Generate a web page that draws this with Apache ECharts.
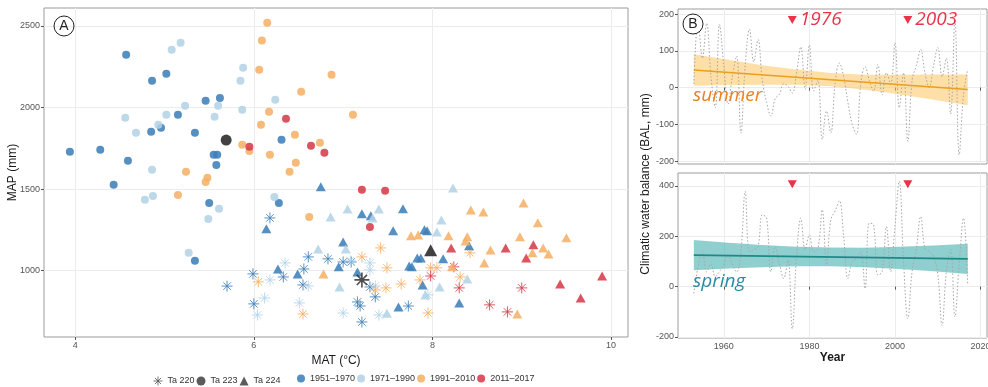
<!DOCTYPE html>
<html>
<head>
<meta charset="utf-8">
<script src="https://cdn.jsdelivr.net/npm/echarts@6/dist/echarts.min.js"></script>
<style>
  html, body { margin: 0; padding: 0; background: #fff; }
  #chart { width: 988px; height: 387px; }
</style>
</head>
<body>
<div id="chart"></div>
<script>
// ---- panel A: MAT / MAP per site and period ----
const periods = ['1951–1970', '1971–1990', '1991–2010', '2011–2017'];
const periodColors = ['#3f80b8', '#b3d3e6', '#f5b268', '#d63c4a'];

// circles (Ta 223 shape)
const c51 = [[3.94,1728],[4.28,1741],[4.57,2323],[4.86,2164],[5.02,2207],[4.59,1673],[4.43,1526],[4.85,1851],[4.96,1876],[5.15,1955],[5.34,1845],[5.46,2041],[5.62,2059],[5.55,1710],[5.59,1710],[5.58,1648],[6.31,1802],[5.50,1415],[6.28,1415],[5.34,1060]];
const c71 = [[5.18,2397],[5.08,2354],[4.56,1937],[4.68,1845],[4.93,1894],[5.02,1955],[5.23,2010],[5.60,2010],[5.56,1943],[5.88,2244],[5.85,2164],[5.87,1986],[6.24,2047],[4.86,1618],[4.78,1434],[4.87,1458],[5.49,1317],[5.61,1379],[5.27,1109],[6.23,1452]];
const c91 = [[6.15,2520],[6.09,2410],[6.06,2231],[6.53,2096],[6.17,1974],[6.08,1894],[6.46,1833],[6.74,1784],[5.87,1771],[5.95,1734],[6.18,1710],[6.47,1661],[6.40,1606],[5.24,1606],[5.46,1544],[5.48,1569],[5.15,1464],[6.87,2201],[7.11,1955],[6.62,1329]];
const c11 = [[6.36,1931],[5.95,1759],[6.64,1765],[6.79,1722],[7.21,1495],[7.47,1489],[7.30,1268]];

// triangles (Ta 224 shape)
const t51 = [[6.75,1514],[6.14,1256],[6.27,1010],[6.49,980],[7.00,1176],[7.21,1348],[7.31,1336],[7.67,1379],[7.56,1244],[6.95,1023],[7.16,992],[7.74,1029],[7.83,1078],[7.91,1250],[7.94,1244],[8.41,1152],[7.87,1078],[8.12,1072],[7.77,1023],[7.89,912],[8.30,802],[7.62,777]];
const t71 = [[8.23,1507],[6.86,1329],[7.05,1378],[7.40,1378],[7.33,1323],[8.10,1311],[8.05,1237],[6.72,1133],[7.03,1133],[6.96,899],[7.49,739],[8.39,949],[8.08,899],[7.92,850]];
const t91 = [[9.02,1415],[8.43,1372],[8.57,1360],[9.18,1293],[9.50,1201],[8.98,1207],[8.18,1213],[8.37,1182],[8.39,1207],[8.65,1127],[9.24,1139],[9.30,1102],[9.12,1109],[8.58,1047],[8.22,1023],[8.95,734],[7.76,1213],[7.84,1219],[6.78,980]];
const t11 = [[8.21,1139],[8.82,1139],[9.13,1158],[9.05,1078],[9.90,967],[9.43,918],[9.66,832]];

// stars (Ta 220 shape)
const s51 = [[5.70,905],[5.99,980],[6.00,796],[6.18,1323],[6.61,1084],[6.56,1010],[6.55,912],[6.33,961],[6.83,1072],[7.09,1053],[7.00,1053],[7.16,808],[7.19,783],[7.21,685],[7.36,839],[7.73,783],[7.30,900]];
const s71 = [[6.12,832],[6.04,728],[6.51,802],[6.35,1047],[6.18,943],[6.61,906],[7.08,1060],[7.30,1047],[7.00,740],[7.36,906],[7.30,1004],[7.95,851],[7.40,728]];
const s91 = [[6.05,931],[6.55,734],[7.21,1084],[7.42,1139],[7.49,1017],[7.48,894],[7.65,918],[7.36,881],[7.95,740],[7.98,1017],[8.05,1017],[8.42,1109],[8.31,961],[7.86,943]];
const s11 = [[7.98,967],[8.24,1023],[8.30,894],[9.00,894],[8.64,790],[8.84,747]];

// the three stations over the whole record
const ta220 = [[7.21,943]];
const ta223 = [[5.69,1800]];
const ta224 = [[7.98,1125]];

const matTicks = [4, 6, 8, 10];
const mapTicks = [1000, 1500, 2000, 2500];

// ---- panel B: climatic water balance ----
const years = [1953,1954,1955,1956,1957,1958,1959,1960,1961,1962,1963,1964,1965,1966,1967,1968,1969,1970,1971,1972,1973,1974,1975,1976,1977,1978,1979,1980,1981,1982,1983,1984,1985,1986,1987,1988,1989,1990,1991,1992,1993,1994,1995,1996,1997,1998,1999,2000,2001,2002,2003,2004,2005,2006,2007,2008,2009,2010,2011,2012,2013,2014,2015,2016,2017];
const summerBal = [10,181,80,175,30,-55,172,60,-45,30,86,-124,60,159,70,131,20,-40,-77,-30,-18,10,4,-15,40,111,-5,116,-9,20,-141,-64,-123,10,67,30,-40,-100,-127,10,57,20,-10,63,-20,40,10,122,-55,40,-146,20,60,104,40,0,60,109,30,80,-72,184,-183,-20,50];
const springBal = [-27,80,139,58,90,40,60,86,126,90,58,139,378,139,147,160,285,272,59,159,90,32,105,-167,120,272,146,205,139,150,305,86,265,300,341,200,32,100,110,139,-8,252,245,46,59,238,59,240,418,100,-127,60,150,278,152,140,119,50,-154,60,146,-120,90,272,6];

const bandYears = [1953,1961,1969,1977,1985,1993,2001,2009,2017];
const summerLo = [5,7,8,8,4,-6,-18,-33,-48];
const summerHi = [91,76,61,49,40,35,35,36,36];
const springLo = [65,72,77,81,81,77,70,61,50];
const springHi = [185,174,165,158,155,154,158,163,170];
const summerTrend = [[1953,48],[2017,-5]];
const springTrend = [[1953,125],[2017,110]];

const dryYears = [1976, 2003];
const yearTicks = [1960, 1980, 2000, 2020];
const summerTicks = [-200, -100, 0, 100, 200];
const springTicks = [-200, 0, 200, 400];

const STAR = 'path://M0,5L10,5M5,0L5,10M1.6,1.6L8.4,8.4M8.4,1.6L1.6,8.4';
const font = 'Liberation Sans';

const chart = echarts.init(document.getElementById('chart'), null, { renderer: 'canvas' });

function valueAxis(grid, min, max, ticks, showLabels, extra) {
  return Object.assign({
    gridIndex: grid,
    type: 'value',
    min: min,
    max: max,
    axisLine: { show: false },
    axisTick: { show: true, length: 3, lineStyle: { color: '#555' }, customValues: ticks },
    axisLabel: {
      show: showLabels, customValues: ticks, fontSize: 9, color: '#555',
      fontFamily: font, margin: 4, formatter: v => String(v)
    },
    splitLine: { show: true, lineStyle: { color: '#ececec', width: 1 } }
  }, extra || {});
}

function scatter(name, data, symbol, color, size, z) {
  const star = symbol === STAR;
  return {
    name: name,
    type: 'scatter',
    xAxisIndex: 0, yAxisIndex: 0,
    data: data,
    symbol: symbol,
    symbolSize: size,
    z: z || 2,
    itemStyle: star
      ? { color: 'none', borderColor: color, borderWidth: 1, opacity: 0.85 }
      : { color: color, opacity: 0.88 }
  };
}

function band(axis, lo, hi, fill) {
  return {
    type: 'custom',
    xAxisIndex: axis, yAxisIndex: axis,
    data: bandYears.map((y, i) => [y, lo[i], hi[i]]),
    z: 1,
    renderItem: function (params, api) {
      if (params.dataIndex !== 0) return null;
      const pts = [];
      for (let i = 0; i < bandYears.length; i++) pts.push(api.coord([bandYears[i], hi[i]]));
      for (let i = bandYears.length - 1; i >= 0; i--) pts.push(api.coord([bandYears[i], lo[i]]));
      return { type: 'polygon', shape: { points: pts }, style: { fill: fill } };
    }
  };
}

const series = [
  scatter('s51', s51, STAR, periodColors[0], 11),
  scatter('s71', s71, STAR, periodColors[1], 11),
  scatter('s91', s91, STAR, periodColors[2], 11),
  scatter('s11', s11, STAR, periodColors[3], 11),
  scatter(periods[0], c51, 'circle', periodColors[0], 8),
  scatter(periods[1], c71, 'circle', periodColors[1], 8),
  scatter(periods[2], c91, 'circle', periodColors[2], 8),
  scatter(periods[3], c11, 'circle', periodColors[3], 8),
  scatter('t51', t51, 'triangle', periodColors[0], [10, 9]),
  scatter('t71', t71, 'triangle', periodColors[1], [10, 9]),
  scatter('t91', t91, 'triangle', periodColors[2], [10, 9]),
  scatter('t11', t11, 'triangle', periodColors[3], [10, 9]),
  Object.assign(scatter('Ta 220', ta220, STAR, '#111', 15, 5), {
    itemStyle: { color: 'none', borderColor: '#222', borderWidth: 1.6 }
  }),
  Object.assign(scatter('Ta 223', ta223, 'circle', '#111', 11, 5), { itemStyle: { color: '#111' } }),
  Object.assign(scatter('Ta 224', ta224, 'triangle', '#111', [13, 12], 5), { itemStyle: { color: '#111' } }),

  // summer
  band(1, summerLo, summerHi, 'rgba(251,196,95,0.55)'),
  {
    type: 'line', xAxisIndex: 1, yAxisIndex: 1, z: 2,
    data: years.map((y, i) => [y, summerBal[i]]),
    smooth: 0.4, symbol: 'none',
    lineStyle: { type: [1.5, 2], color: '#a6a6a6', width: 1 }
  },
  {
    type: 'line', xAxisIndex: 1, yAxisIndex: 1, z: 3,
    data: summerTrend, symbol: 'none',
    lineStyle: { color: '#e9a01f', width: 1.6 }
  },
  {
    type: 'scatter', xAxisIndex: 1, yAxisIndex: 1, z: 4,
    data: dryYears.map(y => [y, 184]),
    symbol: 'triangle', symbolRotate: 180, symbolSize: [9, 8],
    itemStyle: { color: '#e5001c' },
    label: {
      show: true, position: 'right', distance: 3,
      formatter: p => String(p.value[0]),
      fontFamily: 'Open Sans', fontStyle: 'italic', fontSize: 19, color: '#e5001c'
    }
  },

  // spring
  band(2, springLo, springHi, 'rgba(84,182,182,0.65)'),
  {
    type: 'line', xAxisIndex: 2, yAxisIndex: 2, z: 2,
    data: years.map((y, i) => [y, springBal[i]]),
    smooth: 0.4, symbol: 'none',
    lineStyle: { type: [1.5, 2], color: '#a6a6a6', width: 1 }
  },
  {
    type: 'line', xAxisIndex: 2, yAxisIndex: 2, z: 3,
    data: springTrend, symbol: 'none',
    lineStyle: { color: '#1b8a86', width: 1.8 }
  },
  {
    type: 'scatter', xAxisIndex: 2, yAxisIndex: 2, z: 4,
    data: dryYears.map(y => [y, 406]),
    symbol: 'triangle', symbolRotate: 180, symbolSize: [9, 8],
    itemStyle: { color: '#e5001c' }
  }
];

const nameStyle = { fontFamily: font, fontSize: 12, color: '#1a1a1a' };
const gridBase = { show: true, borderColor: '#9c9c9c', borderWidth: 1, outerBoundsMode: 'none', containLabel: false };

const option = {
  animation: false,
  backgroundColor: '#fff',
  grid: [
    Object.assign({ left: 44, top: 8, width: 584, height: 329 }, gridBase),
    Object.assign({ left: 678, top: 9, width: 309, height: 155 }, gridBase),
    Object.assign({ left: 678, top: 173, width: 309, height: 165 }, gridBase)
  ],
  xAxis: [
    valueAxis(0, 3.65, 10.19, matTicks, true, {
      name: 'MAT (°C)', nameLocation: 'middle', nameGap: 15, nameTextStyle: nameStyle
    }),
    valueAxis(1, 1949.3, 2021.5, yearTicks, false),
    valueAxis(2, 1949.3, 2021.5, yearTicks, true, {
      name: 'Year', nameLocation: 'middle', nameGap: 12,
      nameTextStyle: Object.assign({}, nameStyle, { fontWeight: 'bold' })
    })
  ],
  yAxis: [
    valueAxis(0, 593, 2610, mapTicks, true, {
      name: 'MAP (mm)', nameLocation: 'middle', nameGap: 25, nameMoveOverlap: false,
      nameTextStyle: nameStyle
    }),
    valueAxis(1, -208, 214, summerTicks, true),
    valueAxis(2, -204, 451, springTicks, true)
  ],
  legend: [
    {
      left: 146, top: 369, itemWidth: 9, itemHeight: 9, itemGap: 2, selectedMode: false,
      textStyle: { fontFamily: font, fontSize: 9, color: '#333' },
      data: [
        { name: 'Ta 220', icon: STAR, itemStyle: { color: 'none', borderColor: '#555', borderWidth: 1 } },
        { name: 'Ta 223', icon: 'circle', itemStyle: { color: '#333' } },
        { name: 'Ta 224', icon: 'triangle', itemStyle: { color: '#333' } }
      ]
    },
    {
      left: 292, top: 369, itemWidth: 8, itemHeight: 8, itemGap: 2, selectedMode: false,
      icon: 'circle',
      textStyle: { fontFamily: font, fontSize: 9, color: '#333' },
      data: periods
    }
  ],
  graphic: [
    { type: 'circle', shape: { cx: 64, cy: 26, r: 10 }, style: { fill: 'none', stroke: '#222', lineWidth: 1 }, z: 10 },
    { type: 'text', x: 64, y: 26, style: { text: 'A', align: 'center', verticalAlign: 'middle', fontSize: 14, fontFamily: font, fill: '#222' }, z: 10 },
    { type: 'circle', shape: { cx: 693, cy: 24, r: 10 }, style: { fill: '#fff', stroke: '#222', lineWidth: 1 }, z: 10 },
    { type: 'text', x: 693, y: 24, style: { text: 'B', align: 'center', verticalAlign: 'middle', fontSize: 14, fontFamily: font, fill: '#222' }, z: 10 },
    { type: 'text', x: 693, y: 96, style: { text: 'summer', verticalAlign: 'middle', fontSize: 19, fontStyle: 'italic', fontFamily: 'Open Sans', fill: '#e8801f' }, z: 10 },
    { type: 'text', x: 693, y: 282, style: { text: 'spring', verticalAlign: 'middle', fontSize: 19, fontStyle: 'italic', fontFamily: 'Open Sans', fill: '#2a8aa3' }, z: 10 },
    { type: 'text', x: 646, y: 184, rotation: Math.PI / 2, style: { text: 'Climatic water balance (BAL, mm)', align: 'center', verticalAlign: 'middle', fontSize: 12, fontFamily: font, fill: '#1a1a1a' }, z: 10 }
  ],
  series: series
};

chart.setOption(option);
</script>
</body>
</html>
